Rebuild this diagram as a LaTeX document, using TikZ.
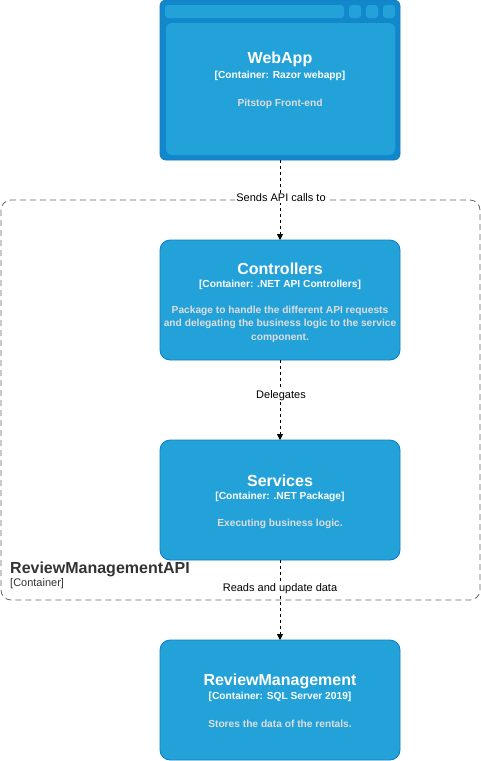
\documentclass[tikz,border=0pt]{standalone}
\usepackage{fontspec}
\setmainfont{Liberation Sans}
\usetikzlibrary{arrows.meta}
\definecolor{cfill}{HTML}{23A2D9}
\definecolor{cstroke}{HTML}{0E7DBE}
\definecolor{cframe}{HTML}{1387CB}
\definecolor{cdesc}{HTML}{DDDDDD}
\definecolor{bgray}{HTML}{666666}
\tikzset{
  x=1pt,y=-1pt,
  cbox/.style={draw=cstroke, fill=cfill, rounded corners=10pt, line width=0.8pt},
  ttl/.style={text=white, font=\fontsize{16}{19}\selectfont\bfseries, anchor=center},
  sub/.style={text=white, font=\fontsize{10.2}{12}\selectfont\bfseries, anchor=center},
  desc/.style={text=cdesc, font=\fontsize{10.2}{13.5}\selectfont\bfseries, align=center, anchor=center},
  rel/.style={draw=black, dashed, line width=0.8pt, -{Triangle[width=6pt,length=6pt]}},
  rlabel/.style={fill=white, text=black, font=\fontsize{11}{13}\selectfont, inner sep=1pt}
}
\begin{document}
\begin{tikzpicture}
\useasboundingbox (0,0) rectangle (481,761);
% boundary
\draw[bgray, dashed, dash pattern=on 6pt off 4pt, rounded corners=10pt, line width=0.8pt] (1,200) rectangle (480,600);
\node[anchor=base west, text=black!80, font=\fontsize{16}{19}\selectfont\bfseries, inner sep=0pt] (blbl) at (10,573) {ReviewManagementAPI};
\node[anchor=base west, text=black!80, font=\fontsize{11}{13}\selectfont, inner sep=0pt] (bsub) at (10,586) {[Container]};

% WebApp
\draw[draw=cstroke, fill=cframe, rounded corners=6pt, line width=0.8pt] (160,0) rectangle (400,160);
\coordinate (wtop) at (280,0);
\coordinate (wbot) at (280,160);
\fill[cfill, rounded corners=3pt] (165,5) rectangle (344,18);
\fill[cfill, rounded corners=3pt] (349,5) rectangle (361,18);
\fill[cfill, rounded corners=3pt] (366,5) rectangle (378,18);
\fill[cfill, rounded corners=3pt] (383,5) rectangle (395,18);
\fill[cfill, rounded corners=6pt] (166,23) rectangle (395,155);
\node[ttl] (wt) at (280,59) {WebApp};
\node[sub] (ws) at (280,76) {[Container: Razor webapp]};
\node[desc] (wd) at (280,104) {Pitstop Front-end};

% Controllers
\draw[cbox] (160,240) rectangle (400,360);
\coordinate (ctop) at (280,240);
\coordinate (cbot) at (280,360);
\node[ttl] (ct) at (280,269) {Controllers};
\node[sub] (cs) at (280,285) {[Container: .NET API Controllers]};
\node[desc] (cd) at (280,324) {Package to handle the different API requests\\and delegating the business logic to the service\\component.};

% Services
\draw[cbox] (160,440) rectangle (400,560);
\coordinate (stop) at (280,440);
\coordinate (sbot) at (280,560);
\node[ttl] (st) at (280,481) {Services};
\node[sub] (ss) at (280,497) {[Container: .NET Package]};
\node[desc] (sd) at (280,524) {Executing business logic.};

% ReviewManagement
\draw[cbox] (160,640) rectangle (400,760);
\coordinate (rtop) at (280,640);
\node[ttl] (rt) at (280,681) {ReviewManagement};
\node[sub] (rs) at (280,697) {[Container: SQL Server 2019]};
\node[desc] (rd) at (280,724) {Stores the data of the rentals.};

% relations
\draw[rel] (wbot) -- (ctop);
\node[rlabel] (l1) at (281,198) {Sends API calls to};
\draw[rel] (cbot) -- (stop);
\node[rlabel] (l2) at (281,396) {Delegates};
\draw[rel] (sbot) -- (rtop);
\node[rlabel] (l3) at (280,589) {Reads and update data};
\end{tikzpicture}
\end{document}
